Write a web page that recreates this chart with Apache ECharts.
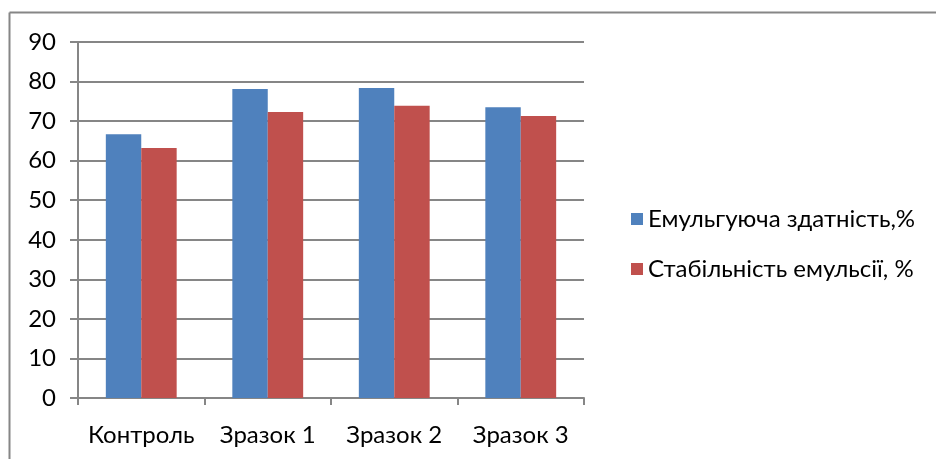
<!DOCTYPE html>
<html><head><meta charset="utf-8">
<script src="https://cdn.jsdelivr.net/npm/echarts@6/dist/echarts.min.js"></script>
<style>html,body{margin:0;padding:0;background:#fff}#c{width:936px;height:459px}</style>
</head><body><div id="c"></div>
<script>
const categories = ['Контроль', 'Зразок 1', 'Зразок 2', 'Зразок 3'];
const seriesNames = ['Емульгуюча здатність,%', 'Стабільність емульсії, %'];
const emulsifying = [66.7, 78.1, 78.4, 73.5];
const stability = [63.2, 72.3, 73.9, 71.3];
const yTicks = [0, 10, 20, 30, 40, 50, 60, 70, 80, 90];

const FONT = 'Lato';
const FS = 24;
const chart = echarts.init(document.getElementById('c'), null, {renderer: 'canvas'});
chart.setOption({
  animation: false,
  backgroundColor: '#fff',
  textStyle: {fontFamily: FONT},
  graphic: [
    {type: 'line', shape: {x1: 9.5, y1: 12.5, x2: 936, y2: 12.5}, style: {stroke: '#868686', lineWidth: 2}},
    {type: 'line', shape: {x1: 9.5, y1: 12.5, x2: 9.5, y2: 459}, style: {stroke: '#868686', lineWidth: 2}}
  ],
  grid: {left: 78, right: 352, top: 42, bottom: 61, containLabel: false},
  legend: {
    orient: 'vertical', left: 626, top: 202,
    itemWidth: 12, itemHeight: 12, itemGap: 26, itemStyle: {borderWidth: 0},
    icon: 'rect',
    textStyle: {fontFamily: FONT, fontSize: FS, color: '#000', padding: [0, 0, 0, 0]},
    data: seriesNames
  },
  xAxis: {
    type: 'category', data: categories,
    axisLine: {lineStyle: {color: '#868686', width: 2}},
    axisTick: {show: true, length: 7, lineStyle: {color: '#868686', width: 2}, alignWithLabel: false},
    axisLabel: {color: '#000', fontSize: FS, fontFamily: FONT, margin: 25, interval: 0, hideOverlap: false}
  },
  yAxis: {
    type: 'value', min: yTicks[0], max: yTicks[yTicks.length - 1], interval: 10,
    axisLine: {show: true, lineStyle: {color: '#868686', width: 2}},
    axisTick: {show: true, length: 8, lineStyle: {color: '#868686', width: 2}},
    splitLine: {lineStyle: {color: '#868686', width: 2}},
    axisLabel: {color: '#000', fontSize: FS, fontFamily: FONT, margin: 22}
  },
  series: [
    {name: seriesNames[0], type: 'bar', data: emulsifying, barGap: '0%', barCategoryGap: '44%',
     itemStyle: {color: '#4F81BD'}},
    {name: seriesNames[1], type: 'bar', data: stability, barGap: '0%', barCategoryGap: '44%',
     itemStyle: {color: '#C0504D'}}
  ]
});
</script></body></html>
